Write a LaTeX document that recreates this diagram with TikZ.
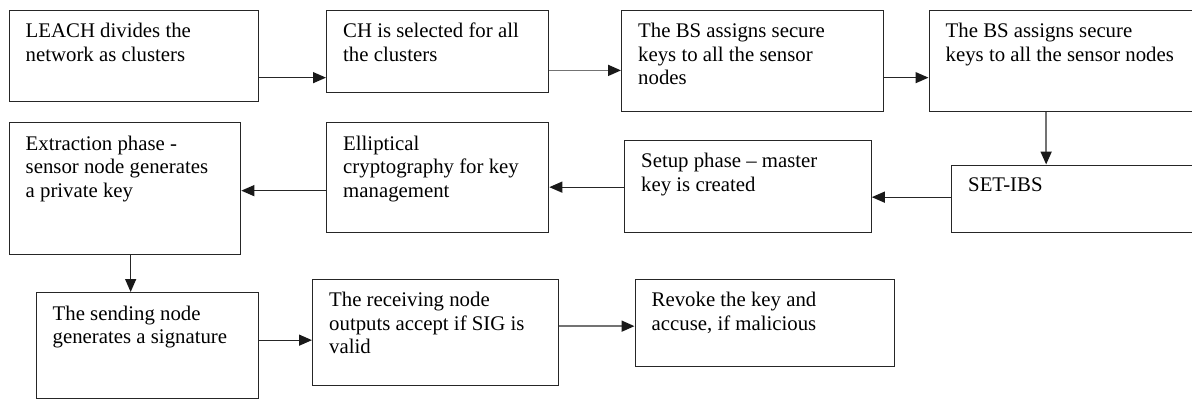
\documentclass[tikz,border=0pt]{standalone}
\usepackage{fontspec}
\setmainfont{Liberation Serif}
\newfontfamily\stepfont[Ligatures=TeX]{Liberation Serif}
\usetikzlibrary{arrows.meta}
\tikzset{
stepbox/.style={draw=black!85, line width=1.3pt, rectangle,
	anchor=north west, inner sep=0pt},
steptext/.style={anchor=north west, inner sep=0pt, align=left,
	font=\stepfont\fontsize{20.8}{23.5}\selectfont, xshift=17pt, yshift=-13.5pt},
flow/.style={draw=black!85, line width=1.3pt,
	-{Triangle[length=13pt,width=11pt,color=black!90]}},
flowgray/.style={flow, draw=black!55, line width=1.8pt}
}

\begin{document}
\begin{tikzpicture}[x=1pt, y=-1pt]
	\useasboundingbox (0,0) rectangle (1192,399);
	% first row
	\node[stepbox, minimum width=249pt, minimum height=91pt] (leach) at (8.5,9.5) {};
	\node[stepbox, minimum width=222pt, minimum height=82.5pt] (chsel) at (326,9.5) {};
	\node[stepbox, minimum width=262pt, minimum height=101.5pt] (bsa) at (621,9.5) {};
	\node[stepbox, minimum width=270pt, minimum height=101.5pt] (bsb) at (928.5,9.5) {};
	% second row
	\node[stepbox, minimum width=231.5pt, minimum height=131.5pt] (extract) at (8.5,122) {};
	\node[stepbox, minimum width=222pt, minimum height=110pt] (ecc) at (326,122) {};
	\node[stepbox, minimum width=246.5pt, minimum height=92pt] (setup) at (624,139.5) {};
	\node[stepbox, minimum width=250pt, minimum height=67.5pt] (setibs) at (951,164.5) {};
	% third row
	\node[stepbox, minimum width=222pt, minimum height=105.5pt] (sending) at (35.5,292) {};
	\node[stepbox, minimum width=246pt, minimum height=106pt] (receiving) at (312,278.5) {};
	\node[stepbox, minimum width=259pt, minimum height=87pt] (revoke) at (634.5,278.5) {};

	% texts
	\node[steptext] (leach-t) at (leach.north west) {LEACH divides the\\network as clusters};
	\node[steptext] (chsel-t) at (chsel.north west) {CH is selected for all\\the clusters};
	\node[steptext] (bsa-t) at (bsa.north west) {The BS assigns secure\\keys to all the sensor\\nodes};
	\node[steptext] (bsb-t) at (bsb.north west) {The BS assigns secure\\keys to all the sensor nodes};
	\node[steptext] (extract-t) at (extract.north west) {Extraction phase -\\sensor node generates\\a private key};
	\node[steptext] (ecc-t) at (ecc.north west) {Elliptical\\cryptography for key\\management};
	\node[steptext] (setup-t) at (setup.north west) {Setup phase – master\\key is created};
	\node[steptext] (setibs-t) at (setibs.north west) {SET-IBS};
	\node[steptext] (sending-t) at (sending.north west) {The sending node\\generates a signature};
	\node[steptext] (receiving-t) at (receiving.north west) {The receiving node\\outputs accept if SIG is\\valid};
	\node[steptext] (revoke-t) at (revoke.north west) {Revoke the key and\\accuse, if malicious};

	% arrows
	\draw[flow] ([yshift=-22pt]leach.east) -- ([yshift=-22pt]leach.east -| chsel.west);
	\draw[flowgray] ([yshift=-19pt]chsel.east) -- ([yshift=-19pt]chsel.east -| bsa.west);
	\draw[flow] ([yshift=-16.75pt]bsa.east) -- ([yshift=-16.75pt]bsa.east -| bsb.west);
	\draw[flowgray] ([xshift=-18pt]bsb.south) -- ([xshift=-18pt]bsb.south |- setibs.north);
	\draw[flow] ([yshift=1.75pt]setibs.west) -- ([yshift=1.75pt]setibs.west -| setup.east);
	\draw[flow] ([yshift=-1pt]setup.west) -- ([yshift=-1pt]setup.west -| ecc.east);
	\draw[flow] ([yshift=-13pt]ecc.west) -- ([yshift=-13pt]ecc.west -| extract.east);
	\draw[flow] ([xshift=5.75pt]extract.south) -- ([xshift=5.75pt]extract.south |- sending.north);
	\draw[flow] ([yshift=5.25pt]sending.east) -- ([yshift=5.25pt]sending.east -| receiving.west);
	\draw[flowgray] ([yshift=6pt]receiving.east) -- ([yshift=6pt]receiving.east -| revoke.west);
\end{tikzpicture}
\end{document}
